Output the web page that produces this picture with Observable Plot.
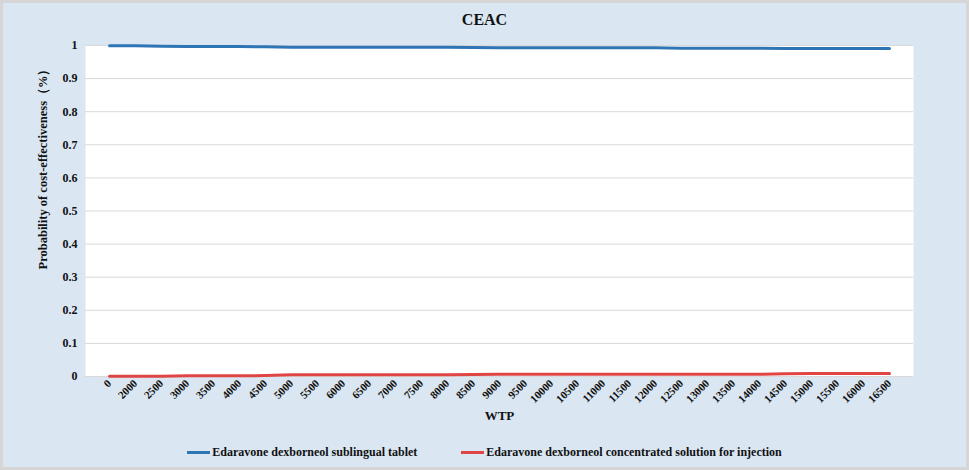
<!DOCTYPE html>
<html>
<head>
<meta charset="utf-8">
<script src="https://cdn.jsdelivr.net/npm/d3@7"></script>
<script src="https://cdn.jsdelivr.net/npm/@observablehq/plot@0.6"></script>
<style>
  html, body { margin: 0; padding: 0; background: #fff; }
  #fig {
    width: 969px; height: 470px; box-sizing: border-box;
    border: 3px solid #d6d6d6; background: #dae6f2;
    font-family: "Liberation Serif", "Times New Roman", serif; font-weight: bold; color: #111;
    position: relative; overflow: hidden;
  }
  #title { height: 36px; line-height: 34px; text-align: center; font-size: 16px; }
  #legend { display: flex; justify-content: center; align-items: center; gap: 0; padding-top: 13px; font-size: 12px; line-height: 16px; }
  .item { display: flex; align-items: center; }
  .sw { width: 23px; height: 3px; margin-right: 2px; }
  .item + .item { margin-left: 44px; }
  svg { display: block; }
</style>
</head>
<body>
<div id="fig">
  <div id="title">CEAC</div>
  <div id="chart"></div>
  <div id="legend"></div>
</div>
<script>
const wtp = ["0","2000","2500","3000","3500","4000","4500","5000","5500","6000","6500","7000","7500","8000","8500","9000","9500","10000","10500","11000","11500","12000","12500","13000","13500","14000","14500","15000","15500","16000","16500"];
const tablet = [0.999,0.999,0.998,0.997,0.997,0.997,0.996,0.995,0.995,0.995,0.995,0.995,0.995,0.995,0.994,0.993,0.993,0.993,0.993,0.993,0.993,0.993,0.992,0.992,0.992,0.992,0.991,0.991,0.991,0.991,0.991];
const injection = [0.001,0.001,0.001,0.002,0.002,0.002,0.003,0.005,0.005,0.005,0.005,0.005,0.005,0.005,0.006,0.007,0.007,0.007,0.007,0.007,0.007,0.007,0.007,0.007,0.007,0.007,0.008,0.009,0.009,0.009,0.009];
const seriesNames = ["Edaravone dexborneol sublingual tablet", "Edaravone dexborneol concentrated solution for injection"];
const seriesColors = ["#2e75b6", "#e04545"];
const yTicks = [0,0.1,0.2,0.3,0.4,0.5,0.6,0.7,0.8,0.9,1];

const data = [];
wtp.forEach((w, i) => {
  data.push({wtp: w, p: tablet[i], s: seriesNames[0]});
  data.push({wtp: w, p: injection[i], s: seriesNames[1]});
});

const font = '"Liberation Serif", "Times New Roman", serif';
const chart = Plot.plot({
  width: 963, height: 392,
  marginTop: 6, marginBottom: 55, marginLeft: 82, marginRight: 53,
  style: {fontFamily: font, fontWeight: "bold", fontSize: "12px", background: "transparent", color: "#111"},
  x: {type: "point", domain: wtp, padding: 0.5, label: null},
  y: {domain: [0, 1], label: null},
  color: {domain: seriesNames, range: seriesColors},
  marks: [
    Plot.frame({fill: "white", stroke: null}),
    Plot.ruleY(yTicks, {stroke: "#d9d9d9", strokeWidth: 1}),
    Plot.axisY({ticks: yTicks, tickSize: 0, tickPadding: 8, tickFormat: d => String(+d.toFixed(1)), fontSize: 12, label: null}),
    Plot.axisX({tickSize: 0, tickPadding: 5, tickRotate: -45, fontSize: 11, label: null}),
    Plot.line(data, {x: "wtp", y: "p", z: "s", stroke: "s", strokeWidth: 3}),
    Plot.text(["WTP"], {frameAnchor: "bottom", dy: 43, fontSize: 13, fontWeight: "bold"}),
    Plot.text(["Probability of cost-effectiveness（%）"], {frameAnchor: "left", textAnchor: "middle", rotate: -90, dx: -43, dy: -45, fontSize: 12.5, fontWeight: "bold"})
  ]
});
document.getElementById("chart").appendChild(chart);

const legend = document.getElementById("legend");
seriesNames.forEach((n, i) => {
  const it = document.createElement("div");
  it.className = "item";
  it.innerHTML = `<span class="sw" style="background:${seriesColors[i]}"></span><span>${n}</span>`;
  legend.appendChild(it);
});
</script>
</body>
</html>
